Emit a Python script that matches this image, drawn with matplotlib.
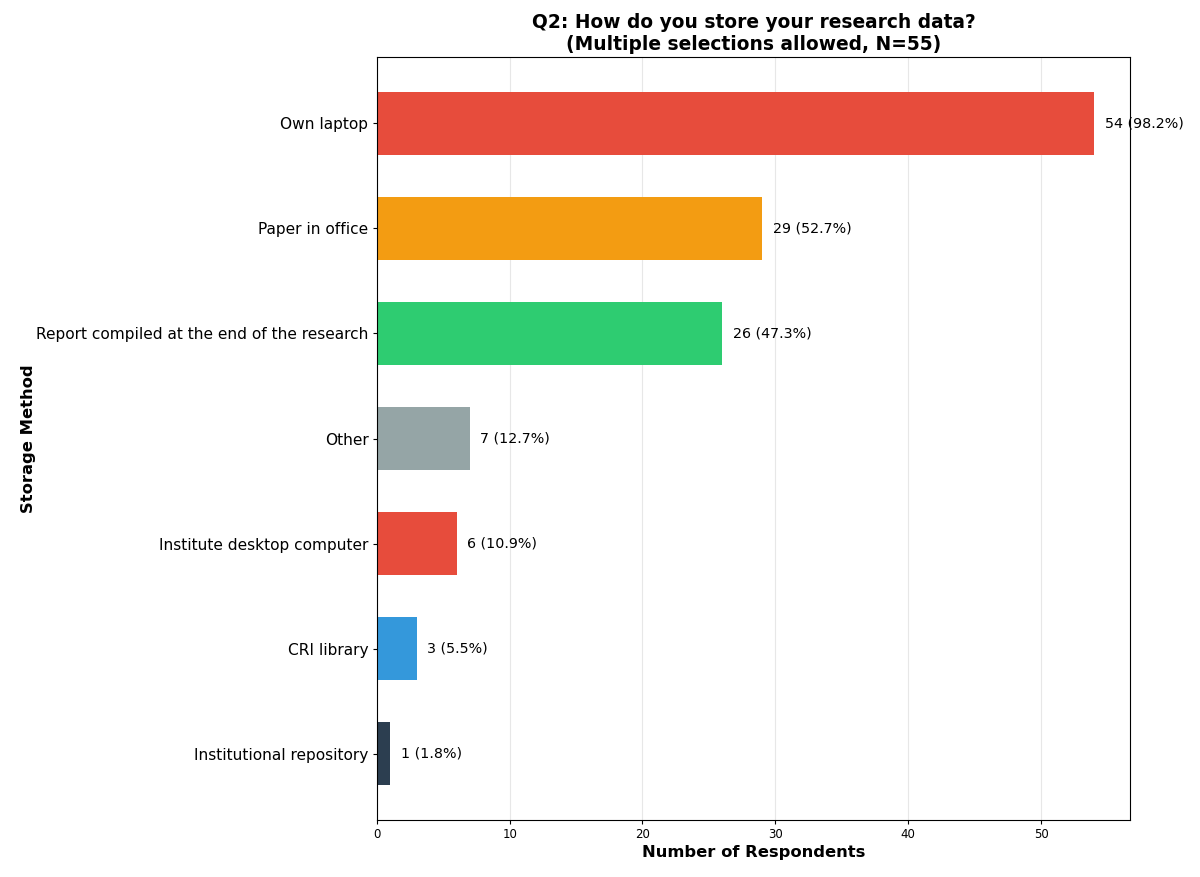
import matplotlib.pyplot as plt
import numpy as np

methods = ['Own laptop', 'Paper in office', 'Report compiled at the end of the research',
           'Other', 'Institute desktop computer', 'CRI library', 'Institutional repository']
counts = [54, 29, 26, 7, 6, 3, 1]
n_total = 55
colors = ['#e74c3c', '#f39c12', '#2ecc71', '#95a5a6', '#e74c3c', '#3498db', '#2c3e50']

fig, ax = plt.subplots(figsize=(12, 8.77), dpi=100)
fig.subplots_adjust(left=0.314, right=0.9417, top=0.935, bottom=0.065)

y = np.arange(len(methods))
ax.barh(y, counts, height=0.6, color=colors)
ax.set_yticks(y)
ax.set_yticklabels(methods, fontsize=11.1)
ax.tick_params(axis='both', length=3, pad=3)
ax.tick_params(axis='x', labelsize=8.5)
ax.invert_yaxis()
ax.set_xlim(0, max(counts) * 1.05)

for yi, c in zip(y, counts):
    ax.text(c + 0.8, yi, f'{c} ({c / n_total * 100:.1f}%)', va='center', fontsize=10.3)

ax.set_xlabel('Number of Respondents', fontsize=11.8, fontweight='bold', labelpad=3)
ax.set_ylabel('Storage Method', fontsize=11.8, fontweight='bold', labelpad=0)
ax.set_title('Q2: How do you store your research data?\n(Multiple selections allowed, N=55)',
             fontsize=13.4, fontweight='bold', pad=5)
ax.grid(axis='x', alpha=0.3)
ax.set_axisbelow(True)

fig.savefig('out.png')
